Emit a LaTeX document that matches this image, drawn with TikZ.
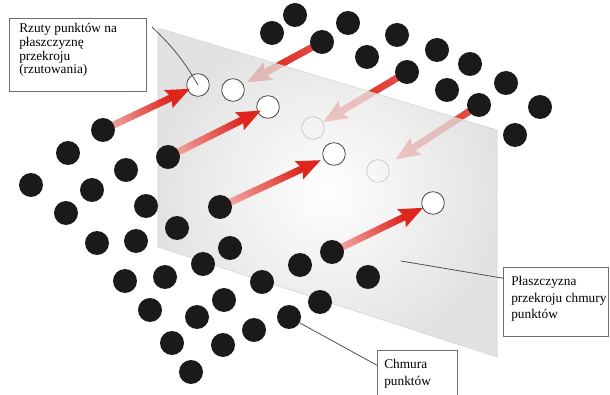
\documentclass[tikz,border=0pt]{standalone}
\usepackage{fontspec}
\setmainfont{Liberation Serif}
\usetikzlibrary{calc}

\definecolor{dotblack}{RGB}{28,26,24}
\definecolor{arrowred}{RGB}{222,38,30}
\definecolor{ringgray}{RGB}{70,70,70}
\definecolor{boxgray}{RGB}{110,110,110}
\definecolor{leadergray}{RGB}{80,80,80}

\pgfdeclarelayer{behind}
\pgfdeclarelayer{plane}
\pgfdeclarelayer{rings}
\pgfdeclarelayer{arrows}
\pgfsetlayers{behind,plane,rings,arrows,main}

\tikzset{
  dot/.style={circle, fill=dotblack, minimum size=18pt, inner sep=0pt},
  proj/.style={circle, fill=white, draw=ringgray, line width=0.6pt, minimum size=17pt, inner sep=0pt},
  labelbox/.style={draw=boxgray, line width=0.7pt, fill=white, inner sep=0pt, anchor=north west},
  labeltext/.style={inner sep=0pt, anchor=north west, align=left},
  leader/.style={draw=leadergray, line width=0.6pt},
}

% Thick arrow from node #1 towards node #2, its tip #3 short of the centre of #2;
% the shaft runs from a #4 % red tint at the tail to full red at the head.
\newcommand\gradarrow[4]{%
  \coordinate (tip) at ($(#2)!#3!(#1)$);
  \coordinate (hb) at ($(tip)!18pt!(#1)$);
  \coordinate (notch) at ($(tip)!15pt!(#1)$);
  \foreach \i in {0,...,23}{%
    \pgfmathsetmacro\ta{\i/24}%
    \pgfmathsetmacro\tb{(\i+1)/24+0.01}%
    \pgfmathsetmacro\mix{#4+(100-#4)*\i/23}%
    \draw[line width=5.2pt, arrowred!\mix!white] ($(#1)!\ta!(notch)$) -- ($(#1)!\tb!(notch)$);
  }%
  \fill[arrowred] (tip) -- ($(hb)!7.5pt!90:(tip)$) -- (notch) -- ($(hb)!7.5pt!-90:(tip)$) -- cycle;
}

\begin{document}
\begin{tikzpicture}[x=0.75pt, y=-0.75pt]
\useasboundingbox (0,0) rectangle (610,395);
\begin{pgfonlayer}{behind}
  \fill[white] (0,0) rectangle (610,395);
\end{pgfonlayer}

% corners of the section plane
\coordinate (pA) at (158,28);
\coordinate (pB) at (497,130);
\coordinate (pC) at (497,357);
\coordinate (pD) at (158,247);

% point cloud in front of the plane
\node[dot] (d1) at (103,130) {};
\node[dot] (d2) at (68,153) {};
\node[dot] (d3) at (31,185) {};
\node[dot] (d4) at (92,190) {};
\node[dot] (d5) at (126,170) {};
\node[dot] (d6) at (66,213) {};
\node[dot] (d7) at (146,206) {};
\node[dot] (d8) at (168,157) {};
\node[dot] (d9) at (177,228) {};
\node[dot] (d10) at (97,243) {};
\node[dot] (d11) at (136,241) {};
\node[dot] (d12) at (220,207) {};
\node[dot] (d13) at (230,248) {};
\node[dot] (d14) at (203,264) {};
\node[dot] (d15) at (125,281) {};
\node[dot] (d16) at (165,277) {};
\node[dot] (d17) at (262,282) {};
\node[dot] (d18) at (224,300) {};
\node[dot] (d19) at (150,310) {};
\node[dot] (d20) at (197,317) {};
\node[dot] (d21) at (254,330) {};
\node[dot] (d22) at (172,343) {};
\node[dot] (d23) at (223,345) {};
\node[dot] (d24) at (191,372) {};
\node[dot] (d25) at (300,265) {};
\node[dot] (d26) at (332,252) {};
\node[dot] (d27) at (368,277) {};
\node[dot] (d28) at (320,302) {};
\node[dot] (d29) at (289,317) {};

% point cloud behind the plane
\node[dot] (t1) at (295,15) {};
\node[dot] (t2) at (272,33) {};
\node[dot] (t3) at (348,23) {};
\node[dot] (t4) at (322,42) {};
\node[dot] (t5) at (397,35) {};
\node[dot] (t6) at (367,57) {};
\node[dot] (t7) at (437,50) {};
\node[dot] (t8) at (407,72) {};
\node[dot] (t9) at (470,64) {};
\node[dot] (t10) at (447,90) {};
\node[dot] (t11) at (506,83) {};
\node[dot] (t12) at (479,105) {};
\node[dot] (t13) at (540,107) {};
\node[dot] (t14) at (515,135) {};

% projections on the near side
\begin{pgfonlayer}{rings}
  \node[proj] (p1) at (198,85) {};
  \node[proj] (p2) at (233,90) {};
  \node[proj] (p3) at (268,107) {};
  \node[proj] (p4) at (334,154) {};
  \node[proj] (p5) at (433,203) {};
\end{pgfonlayer}

% projections seen through the plane, with the arrows from the far cloud
\begin{pgfonlayer}{behind}
  \node[proj] (q1) at (313,128) {};
  \node[proj] (q2) at (378,171) {};
  \gradarrow{t4}{p2}{12pt}{80}
  \gradarrow{t8}{q1}{9pt}{80}
  \gradarrow{t12}{q2}{16pt}{80}
\end{pgfonlayer}

% the translucent section plane
\begin{pgfonlayer}{plane}
  \shade[inner color=white, outer color=gray!28, fill opacity=0.78]
    (pA) -- (pB) -- (pC) -- (pD) -- cycle;
  \draw[gray!35, line width=0.4pt] (pA) -- (pB) -- (pC) -- (pD) -- cycle;
\end{pgfonlayer}

% projection arrows from the near cloud
\begin{pgfonlayer}{arrows}
  \gradarrow{d1}{p1}{6.75pt}{35}
  \gradarrow{d8}{p3}{6pt}{35}
  \gradarrow{d12}{p4}{11pt}{35}
  \gradarrow{d26}{p5}{8.25pt}{35}
\end{pgfonlayer}

% labels
\node[labelbox, minimum width=102.75pt, minimum height=54.75pt] (box1) at (9,18) {};
\node[labeltext, font=\fontsize{10}{10.3}\selectfont] (txt1) at (19,23)
  {Rzuty punktów na\\płaszczyznę\\przekroju\\(rzutowania)};
\node[labelbox, minimum width=79.1pt, minimum height=51.75pt] (box2) at (503,267) {};
\node[labeltext, font=\fontsize{10}{12.4}\selectfont] (txt2) at (511,276)
  {Płaszczyzna\\przekroju chmury\\punktów};
\node[labelbox, minimum width=60pt, minimum height=37.5pt] (box3) at (377,350) {};
\node[labeltext, font=\fontsize{10}{12.4}\selectfont] (txt3) at (384,359)
  {Chmura\\punktów};

% leader lines
\coordinate (lead1) at (152,27);
\draw[leader] (lead1) to[bend left=8] (p1.center);
\coordinate (lead2) at (401,261);
\draw[leader] (lead2) -- ($(box2.north west)!0.16!(box2.south west)$);
\draw[leader] (d29) -- ($(box3.north west)!0.3!(box3.south west)$);
\end{tikzpicture}
\end{document}
